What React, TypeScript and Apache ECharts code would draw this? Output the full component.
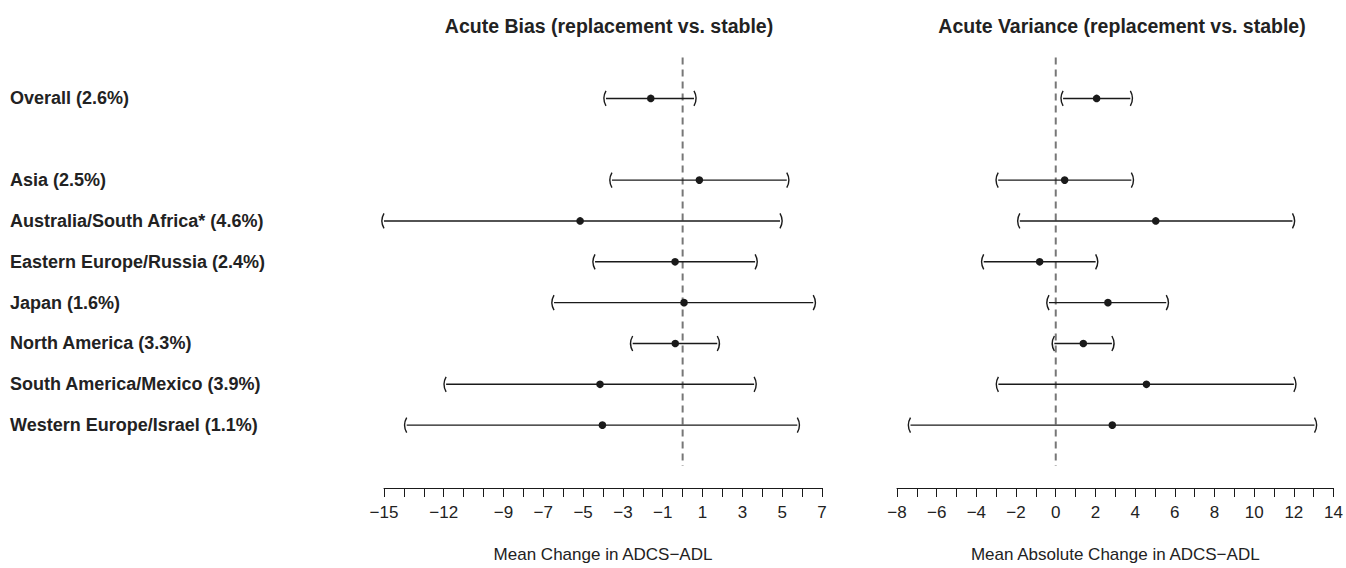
import React, { useEffect, useRef } from "react";
import * as echarts from "echarts";

const categories = [
  "Overall (2.6%)",
  "",
  "Asia (2.5%)",
  "Australia/South Africa* (4.6%)",
  "Eastern Europe/Russia (2.4%)",
  "Japan (1.6%)",
  "North America (3.3%)",
  "South America/Mexico (3.9%)",
  "Western Europe/Israel (1.1%)",
];
const biasMean = [-1.6, null, 0.84, -5.15, -0.38, 0.07, -0.37, -4.15, -4.03];
const biasLower = [-3.85, null, -3.55, -15.0, -4.4, -6.46, -2.51, -11.88, -13.86];
const biasUpper = [0.57, null, 5.23, 4.89, 3.64, 6.56, 1.74, 3.59, 5.76];
const varMean = [2.06, null, 0.45, 5.04, -0.81, 2.63, 1.39, 4.57, 2.85];
const varLower = [0.37, null, -2.9, -1.81, -3.63, -0.34, -0.07, -2.89, -7.32];
const varUpper = [3.76, null, 3.81, 11.93, 2.01, 5.57, 2.83, 12.0, 13.04];
const biasTickLabels = [-15, -12, -9, -7, -5, -3, -1, 1, 3, 5, 7];
const varTickLabels = [-8, -6, -4, -2, 0, 2, 4, 6, 8, 10, 12, 14];

const FONT = "'Liberation Sans', Arial, Helvetica, sans-serif";
const INK = "#1a1a1a";

function rows(lo: (number | null)[], hi: (number | null)[], mean: (number | null)[]) {
  const out: number[][] = [];
  categories.forEach((_, i) => {
    if (mean[i] == null) return;
    out.push([lo[i] as number, hi[i] as number, mean[i] as number, i]);
  });
  return out;
}

const renderCI = (params: any, api: any) => {
  const row = api.value(3);
  const pL = api.coord([api.value(0), row]);
  const pR = api.coord([api.value(1), row]);
  const pM = api.coord([api.value(2), row]);
  const h = 7.5;
  const s = 2;
  const r = (h * h + s * s) / (2 * s);
  const a = Math.asin(h / r);
  const stroke = { stroke: INK, lineWidth: 1.4, fill: "none" };
  return {
    type: "group",
    children: [
      { type: "line", shape: { x1: pL[0], y1: pL[1], x2: pR[0], y2: pR[1] }, style: { stroke: INK, lineWidth: 1.4 } },
      {
        type: "arc",
        shape: { cx: pL[0] - s + r, cy: pL[1], r, startAngle: Math.PI - a, endAngle: Math.PI + a, clockwise: true },
        style: stroke,
      },
      {
        type: "arc",
        shape: { cx: pR[0] + s - r, cy: pR[1], r, startAngle: -a, endAngle: a, clockwise: true },
        style: stroke,
      },
      { type: "circle", shape: { cx: pM[0], cy: pM[1], r: 3.8 }, style: { fill: INK } },
    ],
  };
};

function xAxisCfg(gridIndex: number, min: number, max: number, labels: number[], name: string) {
  return {
    type: "value",
    gridIndex,
    min,
    max,
    interval: 1,
    offset: 22,
    position: "bottom",
    axisLine: { show: true, onZero: false, lineStyle: { color: INK, width: 1 } },
    axisTick: { show: true, length: 9, lineStyle: { color: INK, width: 1 } },
    splitLine: { show: false },
    axisLabel: {
      margin: 16,
      fontSize: 17,
      color: "#222",
      fontFamily: FONT,
      showMinLabel: true,
      showMaxLabel: true,
      hideOverlap: false,
      formatter: (v: number) => (labels.includes(v) ? (v < 0 ? "\u2212" + Math.abs(v) : String(v)) : ""),
    },
    name,
    nameLocation: "middle",
    nameGap: 58,
    nameTextStyle: { fontSize: 17, color: "#222", fontFamily: FONT },
  };
}

function yAxisCfg(gridIndex: number, showLabels: boolean) {
  return {
    type: "value",
    gridIndex,
    inverse: true,
    min: -1,
    max: 9,
    interval: 1,
    axisLine: { show: false },
    axisTick: { show: false },
    splitLine: { show: false },
    axisLabel: {
      show: showLabels,
      align: "left",
      margin: 374,
      fontSize: 18,
      fontWeight: "bold",
      color: "#222",
      fontFamily: FONT,
      formatter: (v: number) => (Number.isInteger(v) && v >= 0 && v < categories.length ? categories[v] : ""),
    },
  };
}

export default function App() {
  const ref = useRef<HTMLDivElement>(null);
  useEffect(() => {
    if (!ref.current) return;
    const chart = echarts.init(ref.current, null, { renderer: "svg" });
    chart.setOption({
      animation: false,
      backgroundColor: "#ffffff",
      title: [
        {
          text: "Acute Bias (replacement vs. stable)",
          left: 604,
          top: 11,
          textAlign: "center",
          textStyle: { fontSize: 19.5, fontWeight: "bold", color: "#222", fontFamily: FONT },
        },
        {
          text: "Acute Variance (replacement vs. stable)",
          left: 1117,
          top: 11,
          textAlign: "center",
          textStyle: { fontSize: 19.5, fontWeight: "bold", color: "#222", fontFamily: FONT },
        },
      ],
      grid: [
        { left: 384, width: 438, top: 57.6, height: 413.8 },
        { left: 897, width: 437, top: 57.6, height: 413.8 },
      ],
      xAxis: [
        xAxisCfg(0, -15, 7, biasTickLabels, "Mean Change in ADCS\u2212ADL"),
        xAxisCfg(1, -8, 14, varTickLabels, "Mean Absolute Change in ADCS\u2212ADL"),
      ],
      yAxis: [yAxisCfg(0, true), yAxisCfg(1, false)],
      series: [
        {
          type: "line",
          xAxisIndex: 0,
          yAxisIndex: 0,
          data: [[0, -1], [0, 9]],
          symbol: "none",
          lineStyle: { color: "#777", width: 2, type: [7, 5] },
          z: 1,
        },
        {
          type: "line",
          xAxisIndex: 1,
          yAxisIndex: 1,
          data: [[0, -1], [0, 9]],
          symbol: "none",
          lineStyle: { color: "#777", width: 2, type: [7, 5] },
          z: 1,
        },
        {
          type: "custom",
          xAxisIndex: 0,
          yAxisIndex: 0,
          data: rows(biasLower, biasUpper, biasMean),
          encode: { x: [0, 1, 2], y: 3 },
          renderItem: renderCI,
          z: 3,
        },
        {
          type: "custom",
          xAxisIndex: 1,
          yAxisIndex: 1,
          data: rows(varLower, varUpper, varMean),
          encode: { x: [0, 1, 2], y: 3 },
          renderItem: renderCI,
          z: 3,
        },
      ],
    });
    return () => chart.dispose();
  }, []);
  return (
    <div
      ref={ref}
      style={{ position: "fixed", left: 0, top: 0, width: 1346, height: 568, background: "#fff" }}
    />
  );
}
